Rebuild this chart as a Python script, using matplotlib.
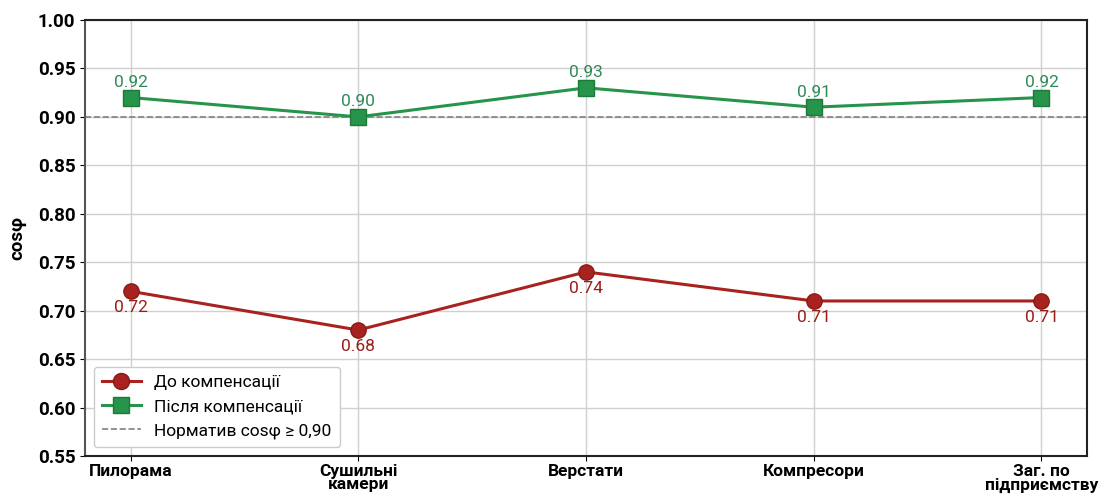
import matplotlib.pyplot as plt

plt.rcParams['font.family'] = ['Roboto', 'DejaVu Sans']

# Дані: коефіцієнт потужності по дільницях
categories = ["Пилорама", "Сушильні\nкамери", "Верстати", "Компресори", "Заг. по\nпідприємству"]
before = [0.72, 0.68, 0.74, 0.71, 0.71]
after = [0.92, 0.90, 0.93, 0.91, 0.92]
norm = 0.90
yticks = [0.55, 0.60, 0.65, 0.70, 0.75, 0.80, 0.85, 0.90, 0.95, 1.00]

red = "#a8231f"
green = "#26944a"

fig = plt.figure(figsize=(11.05, 4.99), dpi=100)
ax = fig.add_axes([85 / 1105, 43 / 499, 1002 / 1105, 436 / 499])

x = list(range(len(categories)))

ax.plot(x, before, color=red, lw=2.2, marker="o", ms=11,
        markeredgecolor="#8a1a16", markerfacecolor=red, label="До компенсації", zorder=3)
ax.plot(x, after, color=green, lw=2.2, marker="s", ms=11,
        markeredgecolor="#1d7a3a", markerfacecolor=green, label="Після компенсації", zorder=3)
ax.axhline(norm, color="gray", ls="--", lw=1.2, label="Норматив cosφ ≥ 0,90", zorder=2)

# Підписи значень
for xi, v in zip(x, after):
    ax.annotate(f"{v:.2f}", (xi, v), xytext=(0, 5.5), textcoords="offset points",
                ha="center", va="bottom", color="#2e8b57", fontsize=12.5)
for xi, v in zip(x, before):
    ax.annotate(f"{v:.2f}", (xi, v), xytext=(0, -6.5), textcoords="offset points",
                ha="center", va="top", color="#9a1d18", fontsize=12.5)

ax.set_xlim(-0.2, 4.2)
ax.set_ylim(0.55, 1.00)
ax.set_yticks(yticks)
ax.set_yticklabels([f"{t:.2f}" for t in yticks], fontsize=13.5, fontweight="bold")
ax.set_xticks(x)
ax.set_xticklabels(categories, fontsize=12.5, fontweight="bold", linespacing=0.9)
ax.set_ylabel("cosφ", fontsize=13.5, fontweight="bold", labelpad=8)
ax.tick_params(axis="x", pad=2)

ax.grid(True, color="#d0d0d0", lw=1)
ax.set_axisbelow(True)
for s in ax.spines.values():
    s.set_color("#222222")
    s.set_linewidth(1.5)
ax.spines["left"].set_color("#555555")

ax.legend(loc="lower left", fontsize=12.5, frameon=True, framealpha=1,
          edgecolor="#cccccc", handlelength=2.2, borderpad=0.5, markerscale=1.05)

fig.savefig("out.png", dpi=100)
